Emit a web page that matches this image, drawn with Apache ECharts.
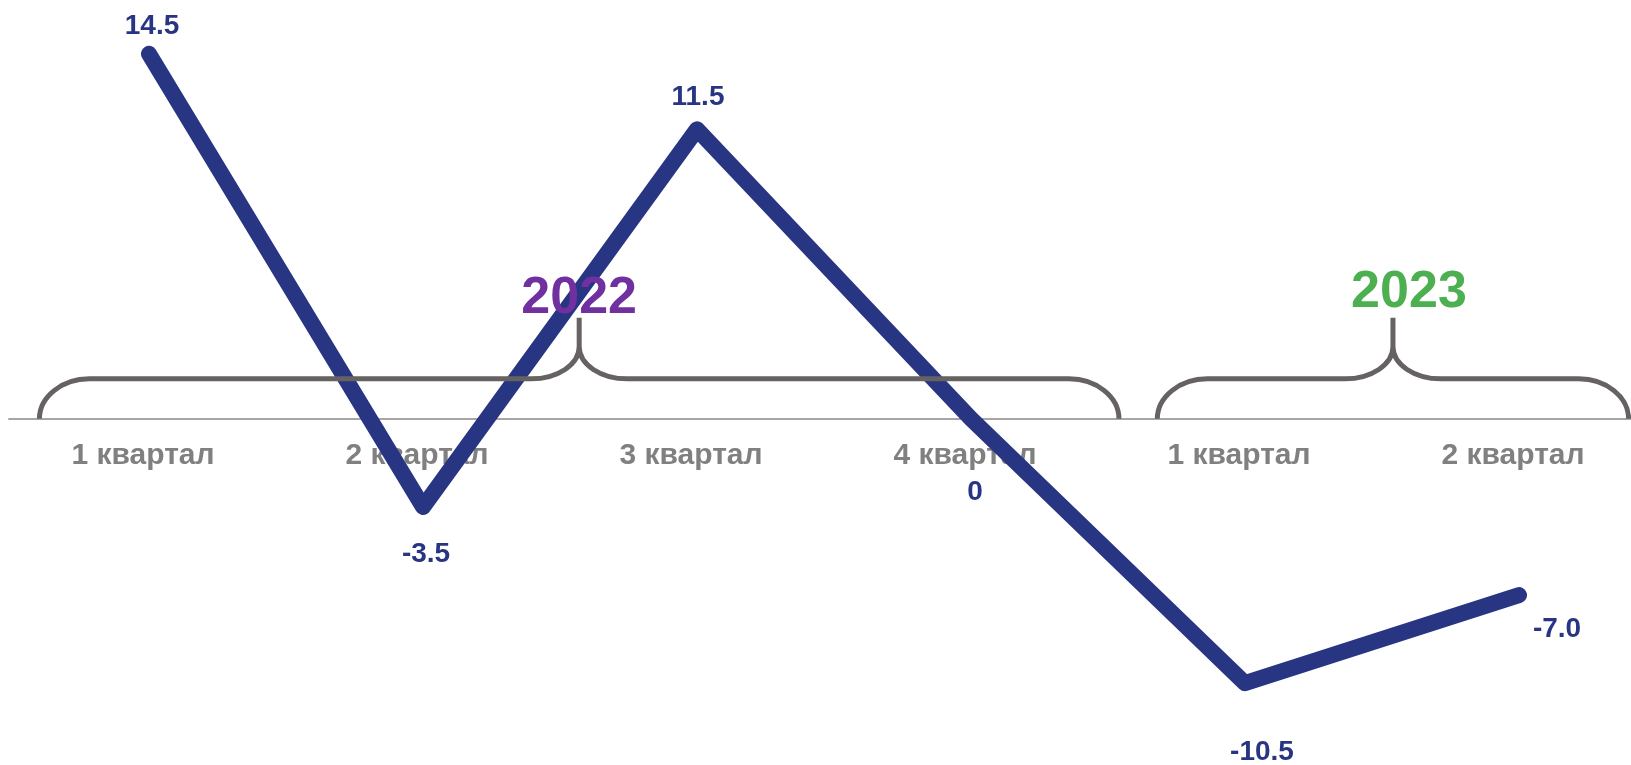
<!DOCTYPE html>
<html>
<head>
<meta charset="utf-8">
<script src="https://cdn.jsdelivr.net/npm/echarts@6/dist/echarts.min.js"></script>
<style>
  html, body { margin: 0; padding: 0; background: #fff; }
  #chart { width: 1631px; height: 765px; }
</style>
</head>
<body>
<div id="chart"></div>
<script>
const quarters = ["1 квартал", "2 квартал", "3 квартал", "4 квартал", "1 квартал", "2 квартал"];
const values = [14.5, -3.5, 11.5, 0, -10.5, -7.0];
const valueLabels = ["14.5", "-3.5", "11.5", "0", "-10.5", "-7.0"];
const years = ["2022", "2023"];

// brace extents in category units, and layout tweaks
const yearSpans = [[-0.4, 3.54], [3.68, 5.4]];
const yearColors = ["#7030a0", "#4caf50"];
const yearTextShift = [[0, -16], [16, -22]];
const labelOffsets = [[3, -27], [3, 47], [1, -32], [4, 73], [17, 69], [38, 34]];

const navy = "#283583";
const font = "'Liberation Sans', Arial, sans-serif";

// plot area
const gridLeft = 149, gridRight = 112, gridTop = 16, gridHeight = 705;
const yMin = -12, yMax = 16;
const zeroY = gridTop + gridHeight * yMax / (yMax - yMin);

let chart = echarts.init(document.getElementById("chart"));

function bracePath(x0, x1, yb) {
  let h = 40, cw = 50, mw = 48, md = 32, stem = 29;
  let xm = (x0 + x1) / 2;
  let yt = yb - h;
  let yc = yt - md;
  return [
    `M${x0},${yb}`,
    `C${x0},${yb - h * 0.55} ${x0 + cw * 0.45},${yt} ${x0 + cw},${yt}`,
    `L${xm - mw},${yt}`,
    `C${xm - mw * 0.45},${yt} ${xm},${yt - md * 0.45} ${xm},${yc}`,
    `L${xm},${yc - stem}`,
    `M${xm},${yc}`,
    `C${xm},${yt - md * 0.45} ${xm + mw * 0.45},${yt} ${xm + mw},${yt}`,
    `L${x1 - cw},${yt}`,
    `C${x1 - cw * 0.45},${yt} ${x1},${yb - h * 0.55} ${x1},${yb}`
  ].join(" ");
}

let option = {
  animation: false,
  grid: [
    { left: gridLeft, right: gridRight, top: gridTop, height: gridHeight },
    // quarter labels sitting on the zero line
    { left: gridLeft, right: gridRight, top: 0, height: zeroY },
    // zero line, running the full width
    { left: 9, right: 0, top: 0, height: zeroY }
  ],
  xAxis: [
    { type: "category", gridIndex: 0, data: quarters, boundaryGap: false, show: false },
    {
      type: "category",
      gridIndex: 1,
      data: quarters,
      boundaryGap: false,
      axisLine: { show: false },
      axisTick: { show: false },
      axisLabel: {
        color: "#808080",
        fontSize: 30,
        fontWeight: "bold",
        fontFamily: font,
        margin: 22,
        padding: [0, 12, 0, 0],
        interval: 0
      },
      splitLine: { show: false }
    },
    {
      type: "category",
      gridIndex: 2,
      data: quarters,
      axisLine: { onZero: false, lineStyle: { color: "#a6a6a6", width: 2 } },
      axisTick: { show: false },
      axisLabel: { show: false },
      splitLine: { show: false }
    }
  ],
  yAxis: [
    { type: "value", gridIndex: 0, min: yMin, max: yMax, show: false, splitLine: { show: false } },
    { type: "value", gridIndex: 1, show: false, splitLine: { show: false } },
    { type: "value", gridIndex: 2, show: false, splitLine: { show: false } }
  ],
  series: [
    {
      type: "line",
      data: values.map((v, i) => ({ value: v, label: { offset: labelOffsets[i] } })),
      symbol: "circle",
      symbolSize: 2,
      itemStyle: { color: navy },
      lineStyle: { color: navy, width: 16, cap: "round", join: "round" },
      label: {
        show: true,
        position: "inside",
        formatter: p => valueLabels[p.dataIndex],
        color: navy,
        fontSize: 28,
        fontWeight: "bold",
        fontFamily: font
      },
      z: 2
    },
    {
      type: "custom",
      clip: false,
      z: 3,
      encode: { x: 0, y: 2 },
      data: yearSpans.map(s => [0, 0, 0]),
      renderItem: (params, api) => {
        let i = params.dataIndex;
        let [ox, yb] = api.coord([0, 0]);
        let step = api.coord([1, 0])[0] - ox;
        let x0 = ox + yearSpans[i][0] * step;
        let x1 = ox + yearSpans[i][1] * step;
        let xm = (x0 + x1) / 2;
        return {
          type: "group",
          children: [
            {
              type: "path",
              shape: { pathData: bracePath(x0, x1, yb) },
              style: { stroke: "#666262", lineWidth: 5, fill: null }
            },
            {
              type: "text",
              style: {
                text: years[i],
                x: xm + yearTextShift[i][0],
                y: yb - 104 + yearTextShift[i][1],
                fill: yearColors[i],
                fontSize: 52,
                fontWeight: "bold",
                fontFamily: font,
                align: "center",
                verticalAlign: "middle"
              }
            }
          ]
        };
      }
    }
  ]
};

chart.setOption(option);
</script>
</body>
</html>
